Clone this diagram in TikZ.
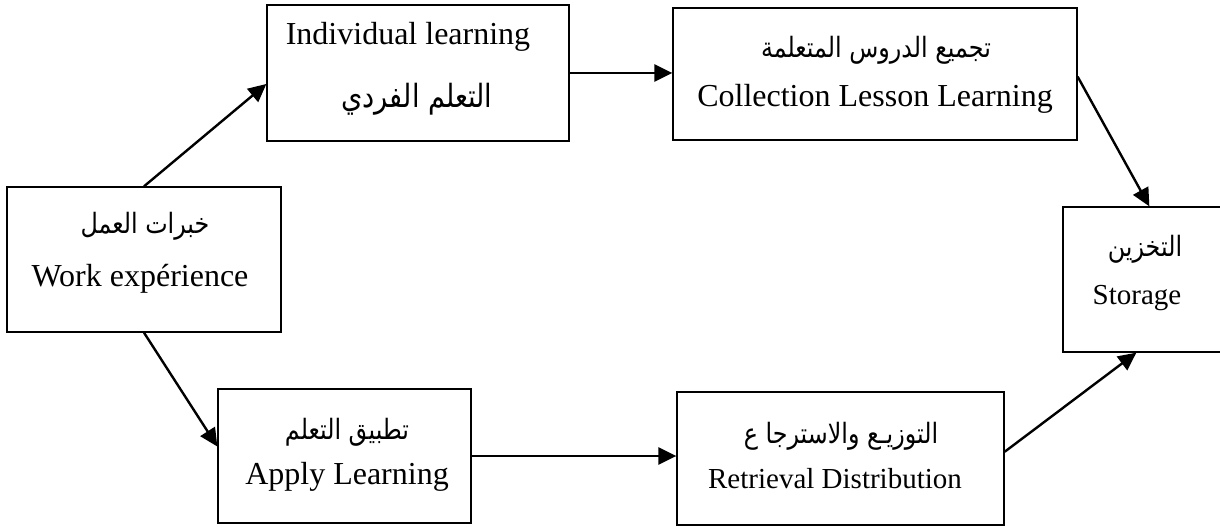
\documentclass[tikz,border=0pt]{standalone}
\usepackage{fontspec}
\setmainfont{Liberation Serif}
\newfontfamily\arabicfont[Script=Arabic, FakeStretch=0.85]{DejaVu Sans}
\TeXXeTstate=1
\usetikzlibrary{arrows.meta,calc}

\begin{document}
\begin{tikzpicture}[x=0.5pt,y=-0.5pt,
  box/.style={draw=black, line width=0.65pt, rectangle, inner sep=0pt},
  flow/.style={-{Triangle[length=9pt,width=8.5pt]}, line width=1.2pt},
  en/.style={font=\fontsize{16}{19}\selectfont, inner sep=0pt},
  ensmall/.style={font=\fontsize{14.5}{17}\selectfont, inner sep=0pt},
  ar/.style={font=\arabicfont\fontsize{14}{17}\selectfont, inner sep=0pt},
  arbig/.style={font=\arabicfont\fontsize{16}{19}\selectfont, inner sep=0pt}]
\useasboundingbox (0,0) rectangle (1220,529);
\fill[white] (0,0) rectangle (1220,529);
\clip (0,0) rectangle (1220,529);

% boxes
\node[box, minimum width=137pt, minimum height=72.5pt] (work) at (144,259.5) {};
\node[box, minimum width=151pt, minimum height=68pt]   (ind)  at (418,73) {};
\node[box, minimum width=202pt, minimum height=66pt]   (coll) at (875,74) {};
\node[box, minimum width=90pt,  minimum height=72.5pt] (stor) at (1153,279.5) {};
\node[box, minimum width=126.5pt, minimum height=67pt] (app)  at (344.5,456) {};
\node[box, minimum width=163.5pt, minimum height=66.5pt] (ret) at (840.5,458.5) {};

% labels
\node[ar] (work-ar) at (145,226) {\beginR خبرات العمل\endR};
\node[en] (work-en) at (140,279) {Work expérience};
\node[en] (ind-en)  at (408,37)  {Individual learning};
\node[arbig] (ind-ar) at (417,99) {\beginR التعلم الفردي\endR};
\node[ar] (coll-ar) at (876,50)  {\beginR تجميع الدروس المتعلمة\endR};
\node[en] (coll-en) at (875,99)  {Collection Lesson Learning};
\node[ar] (stor-ar) at (1145,249) {\beginR التخزين\endR};
\node[ensmall] (stor-en) at (1137,298) {Storage};
\node[ar] (app-ar)  at (347,432) {\beginR تطبيق التعلم\endR};
\node[en] (app-en)  at (347,477) {Apply Learning};
\node[ar] (ret-ar)  at (841,436) {\beginR التوزيـع والاسترجا ع\endR};
\node[ensmall] (ret-en) at (835,479) {Retrieval Distribution};

% connectors
\draw[flow] (work.north) -- ($(ind.north west)!0.58!(ind.south west)$);
\draw[flow] (ind.east) -- (ind.east -| coll.west);
\draw[flow] ($(coll.north east)!0.52!(coll.south east)$) -- ($(stor.north west)+(87,0)$);
\draw[flow] (work.south) -- ($(app.north west)!0.43!(app.south west)$);
\draw[flow] (app.east) -- (app.east -| ret.west);
\draw[flow] ($(ret.north east)!0.45!(ret.south east)$) -- ($(stor.south west)+(74,0)$);
\end{tikzpicture}
\end{document}
